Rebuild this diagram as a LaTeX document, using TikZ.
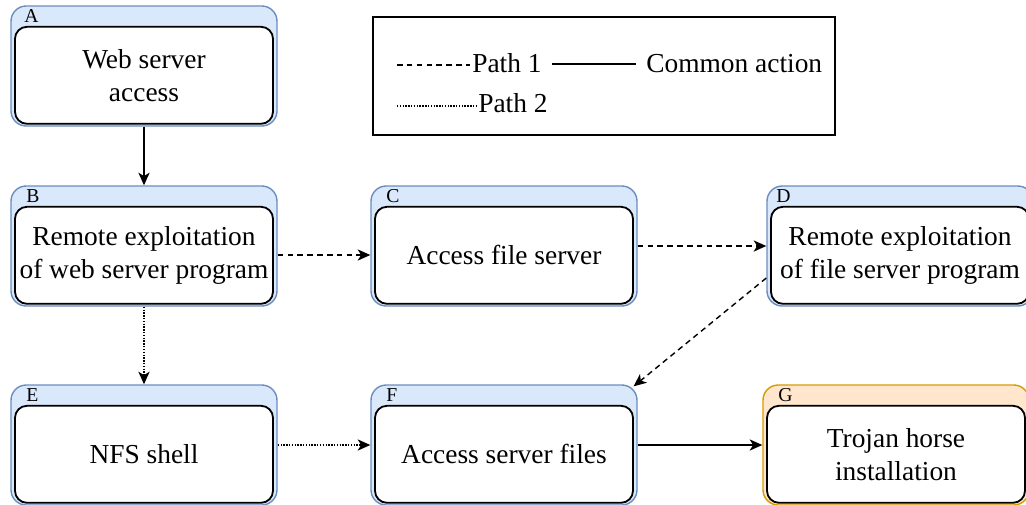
\documentclass[tikz,border=0pt]{standalone}
\usepackage{fontspec}
\setmainfont{LiberationSerif}[Extension=.ttf, UprightFont=*-Regular, BoldFont=*-Bold]
\usetikzlibrary{arrows.meta, positioning, calc}

\definecolor{bluefill}{HTML}{DAE8FC}
\definecolor{blueline}{HTML}{6C8EBF}
\definecolor{orangefill}{HTML}{FFE6CC}
\definecolor{orangeline}{HTML}{D79B00}

\begin{document}
\begin{tikzpicture}[
    font=\rmfamily\fontsize{19.5}{23.5}\selectfont,
    stage/.style={
        rectangle, rounded corners=0.38cm,
        draw=blueline, fill=bluefill, line width=1pt,
        minimum width=6.65cm, minimum height=3cm
    },
    goal/.style={stage, draw=orangeline, fill=orangefill},
    task/.style={
        rectangle, rounded corners=0.3cm,
        draw=black, fill=white, line width=1.3pt,
        minimum width=6.45cm, minimum height=2.425cm,
        align=center, inner sep=1pt
    },
    tag/.style={anchor=base west, inner sep=0pt, font=\rmfamily\fontsize{14}{16}\selectfont},
    action/.style={-{Stealth[length=9pt, width=8pt, inset=2.5pt]}, line width=1pt},
    pathone/.style={action, dash pattern=on 4pt off 3pt},
    pathtwo/.style={action, dash pattern=on 1pt off 1pt},
    keytext/.style={anchor=base west, inner sep=0pt}
]
\useasboundingbox (0,0) rectangle (25.65,-12.6);

% Row 1: entry point
\node[stage] (A) at (3.6, -1.65) {};
\node[task, anchor=south] (Ain) at ($(A.south)+(0,0.05)$) {Web server\\access};
\node[tag] (Atag) at ($(Ain.north west)+(0.25,0.075)$) {A};

% Legend
\node[draw, line width=1pt, minimum width=11.55cm, minimum height=2.95cm] (legend) at (15.1, -1.9) {};
\node[keytext] (p1) at (11.8, -1.8) {Path 1};
\node[keytext] (ca) at (16.15, -1.8) {Common action};
\node[keytext] (p2) at (11.95, -2.8) {Path 2};
\draw[line width=1pt, dash pattern=on 4pt off 3pt] ($(p1.base west)+(-1.875,0.175)$) -- ($(p1.base west)+(-0.05,0.175)$);
\draw[line width=1pt] ($(p1.base east)+(0.25,0.2)$) -- ($(ca.base west)+(-0.25,0.2)$);
\draw[line width=1pt, dash pattern=on 1pt off 1pt] ($(p2.base west)+(-2.025,0.15)$) -- ($(p2.base west)+(-0.05,0.15)$);

% Row 2: exploitation steps
\node[stage] (B) at (3.6, -6.15) {};
\node[task, anchor=south] (Bin) at ($(B.south)+(0,0.05)$) {Remote exploitation\\of web server program};
\node[tag] (Btag) at ($(Bin.north west)+(0.3,0.075)$) {B};

\node[stage] (C) at (12.6, -6.15) {};
\node[task, anchor=south] (Cin) at ($(C.south)+(0,0.05)$) {Access file server};
\node[tag] (Ctag) at ($(Cin.north west)+(0.3,0.075)$) {C};

\node[stage] (D) at (22.5, -6.15) {};
\node[task, anchor=south] (Din) at ($(D.south)+(0,0.05)$) {Remote exploitation\\of file server program};
\node[tag] (Dtag) at ($(Din.north west)+(0.15,0.075)$) {D};

% Row 3: file access and payload
\node[stage] (E) at (3.6, -11.125) {};
\node[task, anchor=south] (Ein) at ($(E.south)+(0,0.05)$) {NFS shell};
\node[tag] (Etag) at ($(Ein.north west)+(0.3,0.075)$) {E};

\node[stage] (F) at (12.6, -11.125) {};
\node[task, anchor=south] (Fin) at ($(F.south)+(0,0.05)$) {Access server files};
\node[tag] (Ftag) at ($(Fin.north west)+(0.3,0.075)$) {F};

\node[goal] (G) at (22.4, -11.125) {};
\node[task, anchor=south] (Gin) at ($(G.south)+(0,0.05)$) {Trojan horse\\installation};
\node[tag] (Gtag) at ($(Gin.north west)+(0.3,0.075)$) {G};

% Connectors
\draw[action] (A) -- (B);
\draw[pathone] ($(B.east)+(0,-0.225)$) -- ($(C.west)+(0,-0.225)$);
\draw[pathone] (C) -- (D);
\draw[pathone] ($(D.west)+(0,-0.8)$) -- ($(F.north east)+(-0.1,-0.05)$);
\draw[pathtwo] (B) -- (E);
\draw[pathtwo] (E) -- (F);
\draw[action] (F) -- (G);

\end{tikzpicture}
\end{document}
